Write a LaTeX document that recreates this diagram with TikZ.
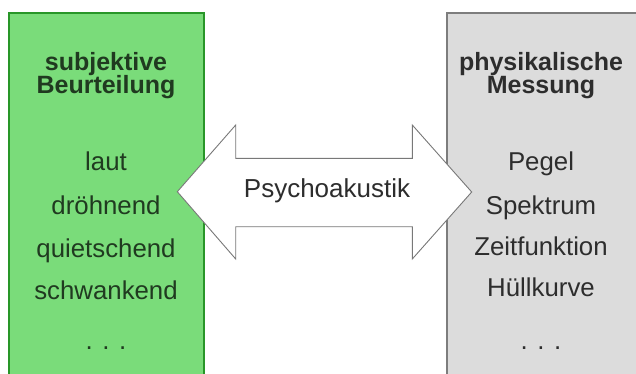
\documentclass[tikz,border=0pt]{standalone}
\usepackage{fontspec}
\setmainfont{Liberation Sans}
\definecolor{boxgreen}{RGB}{122,220,122}
\definecolor{edgegreen}{RGB}{40,150,40}
\definecolor{boxgrey}{RGB}{220,220,220}
\definecolor{edgegrey}{RGB}{125,125,125}
\definecolor{arrowedge}{RGB}{120,120,120}
\definecolor{txtgreen}{RGB}{32,58,32}
\definecolor{txtgrey}{RGB}{45,45,45}
\tikzset{
  panel/.style={line width=2pt},
  line/.style={font=\fontsize{25.8}{30}\selectfont, anchor=base, inner sep=0pt},
  title/.style={line, font=\fontsize{25}{30}\selectfont\bfseries},
  bigarrow/.style={draw=arrowedge, fill=white, line width=0.9pt, line join=miter},
}
\begin{document}
\begin{tikzpicture}[x=1pt,y=-1pt]
\useasboundingbox (0,0) rectangle (636,374);
\begin{scope}
\clip (0,0) rectangle (636,374);
% left panel
\draw[panel, draw=edgegreen, fill=boxgreen] (8.5,13.5) rectangle (203.5,390);
% right panel
\draw[panel, draw=edgegrey, fill=boxgrey] (446.5,13.5) rectangle (660,390);
\end{scope}
% left texts
\node[title, text=txtgreen] (l1) at (106,70.7) {subjektive};
\node[title, text=txtgreen] (l2) at (106,93.3) {Beurteilung};
\node[line, text=txtgreen] (l3) at (106,170) {laut};
\node[line, text=txtgreen] (l4) at (106,214) {dröhnend};
\node[line, text=txtgreen] (l5) at (106,257) {quietschend};
\node[line, text=txtgreen] (l6) at (106,299) {schwankend};
\node[line, text=txtgreen] (l7) at (106,349) {. . .};
% right texts
\node[title, text=txtgrey] (r1) at (541,70.7) {physikalische};
\node[title, text=txtgrey] (r2) at (541,93.3) {Messung};
\node[line, text=txtgrey] (r3) at (541,171) {Pegel};
\node[line, text=txtgrey] (r4) at (541,214) {Spektrum};
\node[line, text=txtgrey] (r5) at (541,255) {Zeitfunktion};
\node[line, text=txtgrey] (r6) at (541,296) {Hüllkurve};
\node[line, text=txtgrey] (r7) at (541,349) {. . .};
% double arrow
\draw[bigarrow] (177.3,191.7) -- (235.7,125) -- (235.7,158.3) -- (412.3,158.3)
  -- (412.3,125) -- (471.7,192) -- (412.3,259) -- (412.3,226.7)
  -- (235.7,226.7) -- (235.7,259) -- cycle;
\node[line, text=txtgrey, font=\fontsize{26}{30}\selectfont] (psy) at (327,197.3) {Psychoakustik};
\end{tikzpicture}
\end{document}
